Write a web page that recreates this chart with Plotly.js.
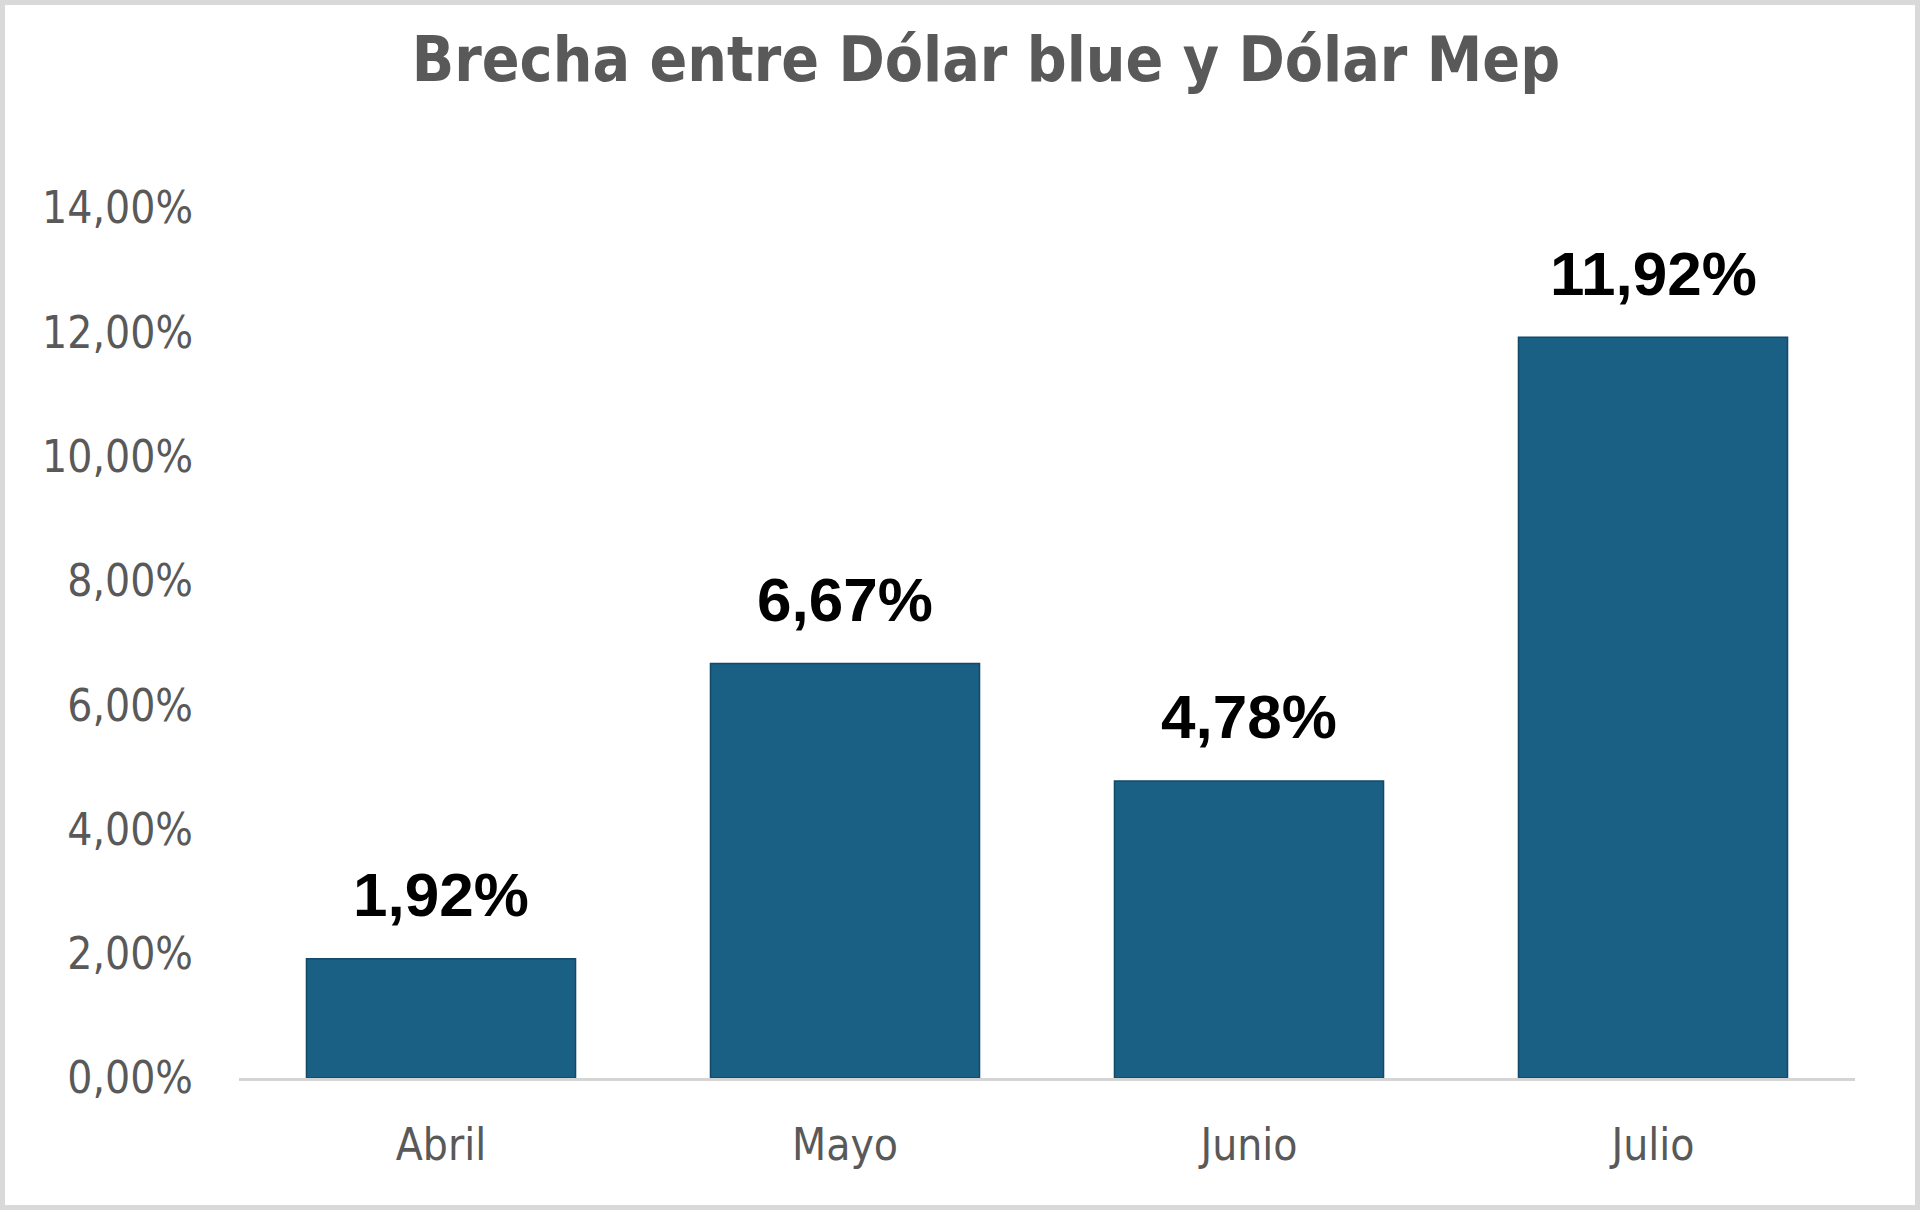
<!DOCTYPE html>
<html>
<head>
<meta charset="utf-8">
<script src="https://cdn.plot.ly/plotly-3.0.1.min.js"></script>
<style>
  html, body { margin: 0; padding: 0; background: #ffffff; }
  #wrap { position: relative; width: 1920px; height: 1210px; }
  #chart { width: 1920px; height: 1210px; }
  #frame { position: absolute; left: 0; top: 0; width: 1920px; height: 1210px; box-sizing: border-box; border: 5px solid #d9d9d9; pointer-events: none; }
</style>
</head>
<body>
<div id="wrap">
  <div id="chart"></div>
  <div id="frame"></div>
</div>
<script>
const months = ["Abril", "Mayo", "Junio", "Julio"];
const gapValues = [0.0192, 0.0667, 0.0478, 0.1192];
const tickValues = [0, 0.02, 0.04, 0.06, 0.08, 0.10, 0.12, 0.14];
const chartTitle = "Brecha entre Dólar blue y Dólar Mep";

const tickFont = { family: "'Liberation Sans Narrow', 'DejaVu Sans Condensed', sans-serif", size: 44, color: "#595959" };

function fmtPct(v) {
  return (v * 100).toFixed(2).replace(".", ",") + "%";
}

const trace = {
  type: "bar",
  x: months,
  y: gapValues,
  marker: { color: "#1a5f84", line: { color: "#124a69", width: 1.5 } },
  hoverinfo: "skip"
};

const annotations = months.map((m, i) => ({
  x: m,
  y: gapValues[i],
  xref: "x",
  yref: "y",
  text: fmtPct(gapValues[i]),
  showarrow: false,
  yanchor: "middle",
  yshift: 64,
  font: { family: "'Liberation Sans', Arial, sans-serif", size: 62, color: "#000000", weight: 700 }
}));

const layout = {
  width: 1920,
  height: 1210,
  paper_bgcolor: "#ffffff",
  plot_bgcolor: "#ffffff",
  separators: ",.",
  margin: { l: 239, r: 65, t: 208, b: 132 },
  bargap: 0.334,
  showlegend: false,
  title: {
    text: chartTitle,
    x: 0.5135,
    xanchor: "center",
    xref: "container",
    y: 1 - 59 / 1210,
    yanchor: "middle",
    yref: "container",
    font: { family: "'DejaVu Sans Condensed', 'Liberation Sans Narrow', sans-serif", size: 62, color: "#595959", weight: 700 }
  },
  xaxis: {
    type: "category",
    showgrid: false,
    zeroline: false,
    showline: true,
    linecolor: "#d4d4d4",
    linewidth: 3,
    ticks: "",
    ticklabelstandoff: 26,
    tickfont: tickFont
  },
  yaxis: {
    range: [0, 0.14],
    tickvals: tickValues,
    tickformat: ".2%",
    showgrid: false,
    zeroline: false,
    showline: false,
    ticks: "",
    ticklabelstandoff: 45,
    tickfont: tickFont
  },
  annotations: annotations
};

Plotly.newPlot("chart", [trace], layout, { displayModeBar: false, staticPlot: true });
</script>
</body>
</html>
